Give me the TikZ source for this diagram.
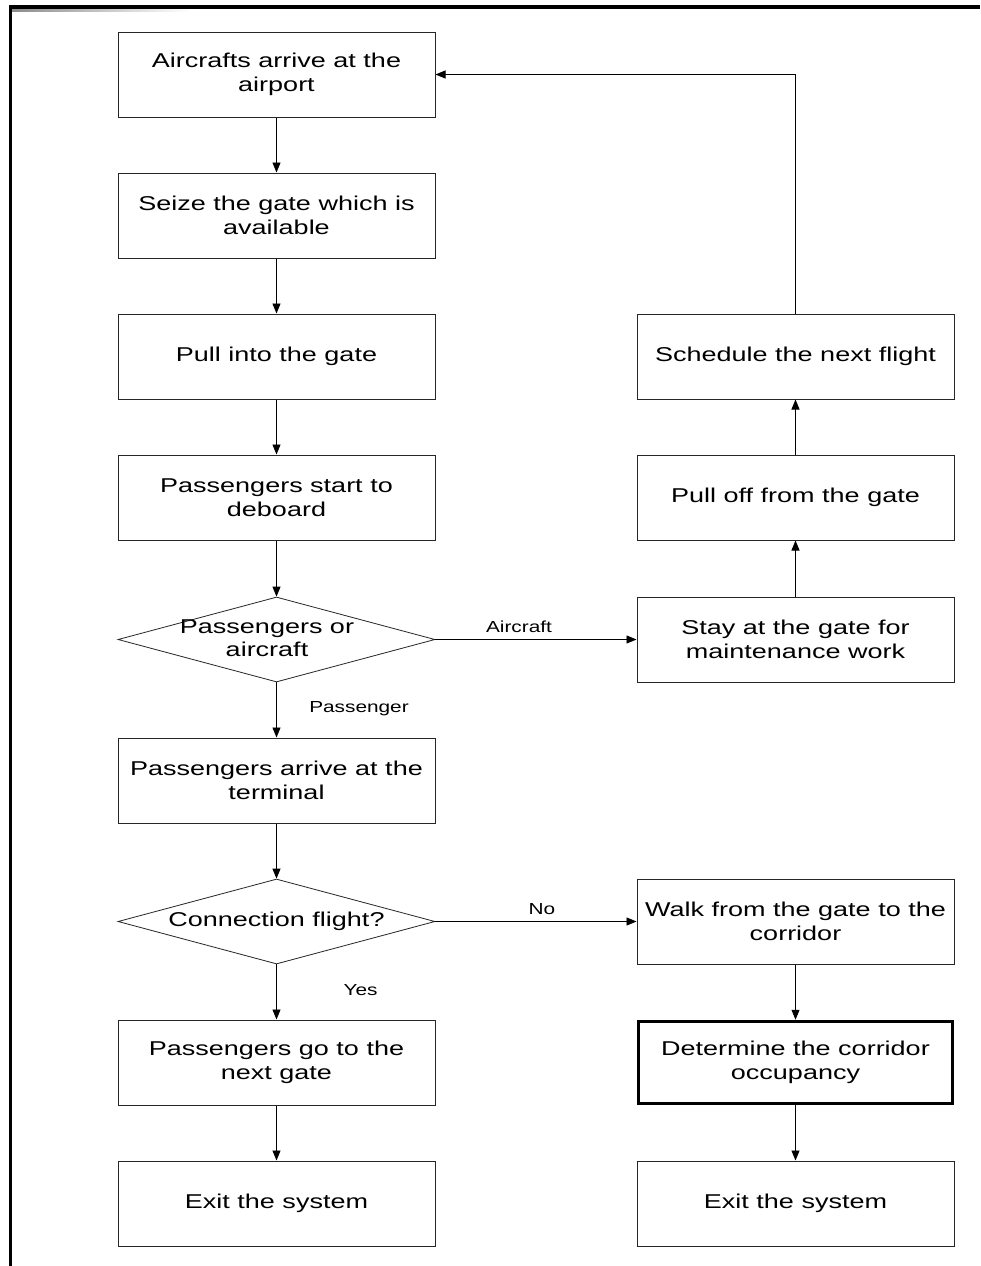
\documentclass[tikz,border=0pt]{standalone}
\usepackage{fontspec}
\newfontfamily\boxfont[FakeStretch=1.35]{Liberation Sans}
\newfontfamily\labfont[FakeStretch=1.3]{Liberation Sans}
\usetikzlibrary{arrows.meta,shapes.geometric}
\begin{document}
\begin{tikzpicture}[x=1pt,y=-1pt,
  stepbox/.style={draw=black!85,line width=1pt,minimum width=317pt,minimum height=85pt,
    inner sep=0pt,align=center,font=\boxfont\fontsize{20}{24}\selectfont},
  keybox/.style={stepbox,draw=black,line width=3.5pt,minimum width=314pt,minimum height=82pt},
  decide/.style={draw=black!85,line width=0.8pt,diamond,aspect=3.73,minimum width=317pt,
    minimum height=85pt,inner sep=0pt,align=center,font=\boxfont\fontsize{20}{23}\selectfont},
  flow/.style={draw=black,line width=0.9pt,-{Triangle[length=10pt,width=8pt]}},
  lab/.style={font=\labfont\fontsize{16}{18}\selectfont,inner sep=0pt}]
\useasboundingbox (0,0) rectangle (980,1266);
\fill[white] (0,0) rectangle (980,1266);
% page frame
\shade[left color=black!45,right color=white] (12,8.5) rectangle (190,11);
\draw[line width=3.5pt] (10.5,1266) -- (10.5,6.8) -- (980,6.8);

% left column
\node[stepbox] (arrive) at (276.5,74.5) {Aircrafts arrive at the\\airport};
\node[stepbox] (seize) at (276.5,215.5) {Seize the gate which is\\available};
\node[stepbox] (pull) at (276.5,356.5) {Pull into the gate};
\node[stepbox] (deboard) at (276.5,497.5) {Passengers start to\\deboard};
\node[decide] (pa) at (276.5,639.5) {};
\node[font=\boxfont\fontsize{20}{23}\selectfont,align=center,inner sep=0pt] (patext) at (267,638.5) {Passengers or\\aircraft};
\node[stepbox] (terminal) at (276.5,780.5) {Passengers arrive at the\\terminal};
\node[decide] (conn) at (276.5,921.5) {Connection flight?};
\node[stepbox] (nextgate) at (276.5,1062.5) {Passengers go to the\\next gate};
\node[stepbox] (exitl) at (276.5,1203.5) {Exit the system};

% right column
\node[stepbox] (sched) at (795.5,356.5) {Schedule the next flight};
\node[stepbox] (pulloff) at (795.5,497.5) {Pull off from the gate};
\node[stepbox] (stay) at (795.5,639.5) {Stay at the gate for\\maintenance work};
\node[stepbox] (walk) at (795.5,921.5) {Walk from the gate to the\\corridor};
\node[keybox] (occ) at (795.5,1062.5) {Determine the corridor\\occupancy};
\node[stepbox] (exitr) at (795.5,1203.5) {Exit the system};

% connectors
\draw[flow] (arrive) -- (seize);
\draw[flow] (seize) -- (pull);
\draw[flow] (pull) -- (deboard);
\draw[flow] (deboard) -- (pa.north);
\draw[flow] (pa.east) -- (stay.west);
\draw[flow] (pa.south) -- (terminal);
\draw[flow] (terminal) -- (conn.north);
\draw[flow] (conn.east) -- (walk.west);
\draw[flow] (conn.south) -- (nextgate);
\draw[flow] (nextgate) -- (exitl);
\draw[flow] (stay) -- (pulloff);
\draw[flow] (pulloff) -- (sched);
\draw[flow] (sched.north) |- (arrive.east);
\draw[flow] (walk) -- (occ);
\draw[flow] (occ) -- (exitr);

% branch labels
\node[lab] (lair) at (519,627) {Aircraft};
\node[lab] (lpas) at (359,708.5) {Passenger};
\node[lab] (lno) at (542,909.5) {No};
\node[lab] (lyes) at (360.5,990) {Yes};
\end{tikzpicture}
\end{document}
